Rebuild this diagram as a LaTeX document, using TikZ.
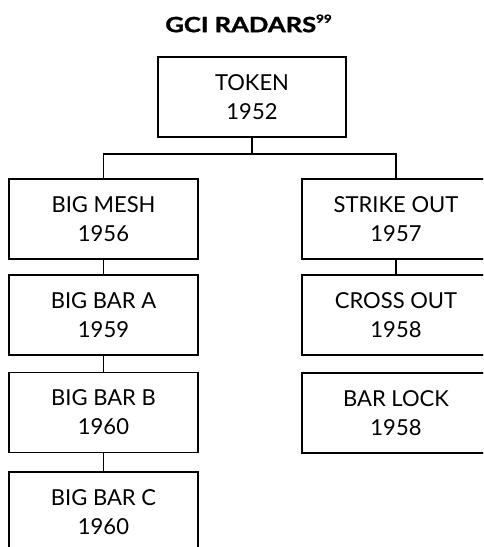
\documentclass[tikz,border=0pt]{standalone}
\usepackage{fontspec}
\setmainfont{Lato}
\newfontfamily\titlefont{Lato}[FakeStretch=1.22, FakeBold=1.5]
\usepackage{tikz}
\usetikzlibrary{calc}

\tikzset{
  radar/.style={draw, line width=1.7pt, minimum width=189pt, minimum height=80pt,
    inner sep=0pt, align=center, font=\fontsize{22}{29}\selectfont},
  link/.style={line width=1.7pt}
}

\begin{document}
\begin{tikzpicture}[x=1pt, y=-1pt]

\useasboundingbox (0,0) rectangle (483,547);
\clip (0,0) rectangle (483,547);

\node (title) at (248.5,23.5) {\titlefont\fontsize{21}{24}\selectfont\bfseries GCI RADARS\raisebox{0.45em}{\fontsize{11}{12}\selectfont 99}};

\node[radar, minimum width=188pt] (token) at (252,97) {TOKEN\\1952};

\node[radar] (mesh) at (103.5,219) {BIG MESH\\1956};
\node[radar] (bara) at (103.5,315) {BIG BAR A\\1959};
\node[radar] (barb) at (103.5,412.5) {BIG BAR B\\1960};
\node[radar] (barc) at (103.5,512) {BIG BAR C\\1960};

\node[radar, minimum width=188pt] (strike) at (396,219) {STRIKE OUT\\1957};
\node[radar, minimum width=188pt] (cross) at (396,315) {CROSS OUT\\1958};
\node[radar, minimum width=188pt] (barlock) at (396,413) {BAR LOCK\\1958};

\coordinate (fork) at ($(token.south)+(0,16)$);

\draw[link] (token.south) -- (fork) -| (mesh.north);
\draw[link] (fork) -| (strike.north);
\draw[link] (mesh) -- (bara);
\draw[link] (bara) -- (barb);
\draw[link] (barb) -- (barc);
\draw[link] (strike) -- (cross);

\end{tikzpicture}
\end{document}
